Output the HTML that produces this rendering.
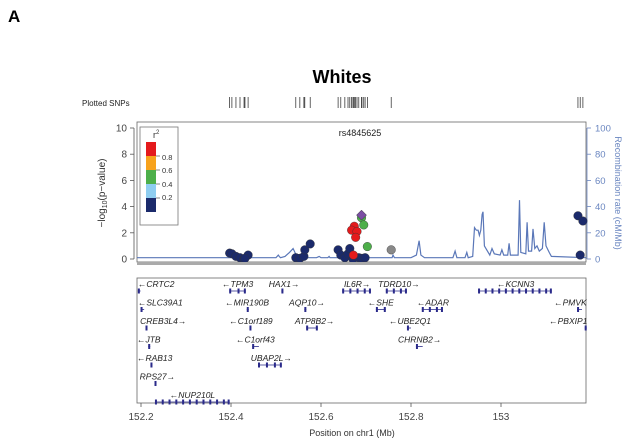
<!DOCTYPE html>
<html><head><meta charset="utf-8">
<style>
html,body{margin:0;padding:0;background:#fff;}
svg{display:block;font-family:"Liberation Sans",Arial,sans-serif;}
</style></head>
<body>
<svg id="chart" width="625" height="438" viewBox="0 0 625 438">
<text x="8" y="22" font-size="17" font-weight="bold">A</text>
<text x="342" y="83" font-size="18" font-weight="bold" text-anchor="middle">Whites</text>
<text x="82" y="106" font-size="8" fill="#222">Plotted SNPs</text>
<g id="snpticks"></g>
<rect x="137" y="122" width="449" height="140" fill="none" stroke="#666" stroke-width="0.8"/>
<g id="recomb"></g>
<g id="yaxis"></g>
<g id="y2axis"></g>
<text transform="translate(105,193) rotate(-90)" font-size="10" fill="#333" text-anchor="middle">−log<tspan font-size="7" dy="2">10</tspan><tspan dy="-2">(p−value)</tspan></text>
<text transform="translate(615,193) rotate(90)" font-size="9" fill="#6a86c0" text-anchor="middle">Recombination rate (cM/Mb)</text>
<g>
<rect x="140" y="127" width="38" height="98" fill="#fff" stroke="#777" stroke-width="0.8"/>
<text x="153" y="138" font-size="9" fill="#333">r<tspan font-size="6" dy="-4">2</tspan></text>
<rect x="146" y="142" width="10" height="14" fill="#e41a1c"/>
<rect x="146" y="156" width="10" height="14" fill="#f7a21c"/>
<rect x="146" y="170" width="10" height="14" fill="#4daf4a"/>
<rect x="146" y="184" width="10" height="14" fill="#8ecdf0"/>
<rect x="146" y="198" width="10" height="14" fill="#1b2a6b"/>
<g font-size="7.5" fill="#333"><text x="162" y="160">0.8</text><text x="162" y="173">0.6</text><text x="162" y="187">0.4</text><text x="162" y="200">0.2</text></g>
<g stroke="#333" stroke-width="0.6"><line x1="156" y1="156" x2="160" y2="156"/><line x1="156" y1="170" x2="160" y2="170"/><line x1="156" y1="184" x2="160" y2="184"/><line x1="156" y1="198" x2="160" y2="198"/></g>
</g>
<text x="360" y="136" font-size="9" fill="#222" text-anchor="middle">rs4845625</text>
<g id="points"></g>
<rect x="137" y="262" width="449" height="3" fill="#aaa"/>
<rect x="137" y="278" width="449" height="125" fill="none" stroke="#666" stroke-width="0.8"/>
<g id="genes"></g>
<g id="xaxis"></g>
<text x="352" y="436" font-size="9" fill="#333" text-anchor="middle">Position on chr1 (Mb)</text>
</svg>
<script>
// ---- data ----
const snpPos = [152.397,152.402,152.411,152.420,152.429,152.438,152.431,
 152.544,152.553,152.562,152.564,152.576,
 152.638,152.644,152.653,152.660,152.664,152.671,152.684,152.691,152.698,
 152.674,152.668,152.680,152.677,152.672,
 152.690,152.695,152.703,152.756,153.171,153.182,153.176];
const snpLogP = [0.45,0.4,0.2,0.1,0.0,0.3,0.05,
 0.1,0.05,0.2,0.7,1.15,
 0.7,0.3,0.1,0.4,0.8,0.0,0.1,0.05,0.1,
 2.5,2.2,2.1,1.65,0.3,
 3.15,2.6,0.95,0.7,3.3,2.9,0.3];
const snpR2Class = ['n','n','n','n','n','n','n','n','n','n','n','n','n','n','n','n','n','n','n','n','n',
 'r','r','r','r','r','g','gr','gr','x','n','n','n'];
const indexPos = 152.690, indexLogP = 3.35;
const recPos = [152.18,152.40,152.50,152.505,152.507,152.51,152.52,152.530,152.538,152.545,152.556,152.56,152.59,152.596,152.60,152.615,152.618,152.62,152.65,152.653,152.656,152.678,152.68,152.683,152.70,152.758,152.76,152.763,152.80,152.812,152.818,152.822,152.83,152.893,152.898,152.902,152.92,152.924,152.927,152.937,152.941,152.945,152.949,152.952,152.955,152.958,152.96,152.963,152.975,152.98,152.985,152.998,153.002,153.006,153.015,153.018,153.021,153.038,153.041,153.044,153.055,153.058,153.061,153.068,153.071,153.075,153.08,153.085,153.092,153.096,153.100,153.107,153.112,153.19];
const recRate = [1,1,1,3,2,1,2,5,8,3,2,1,1,2,1,1,2,1,1,2,1,1,2,1,1,1,3,1,1,3,14,3,1,1,6,1,1,5,1,2,24,22,22,18,22,34,36,10,3,8,4,3,7,3,3,12,3,3,45,5,4,28,6,6,23,8,10,6,8,28,10,5,2,1];
const xTicks = [152.2,152.4,152.6,152.8,153.0];
const xTickLabels = ['152.2','152.4','152.6','152.8','153'];
const yTicks = [0,2,4,6,8,10];
const y2Ticks = [0,20,40,60,80,100];
const geneNames = ['CRTC2','TPM3','HAX1','IL6R','TDRD10','KCNN3','SLC39A1','MIR190B','AQP10','SHE','ADAR','PMVK','CREB3L4','C1orf189','ATP8B2','UBE2Q1','PBXIP1','JTB','C1orf43','CHRNB2','RAB13','UBAP2L','RPS27','NUP210L'];
const geneStart = [152.193,152.396,152.512,152.647,152.744,152.949,152.199,152.435,152.563,152.722,152.824,153.169,152.210,152.441,152.567,152.791,153.186,152.216,152.447,152.811,152.221,152.460,152.230,152.231];
const geneEnd = [152.199,152.433,152.514,152.711,152.791,153.113,152.207,152.437,152.565,152.744,152.871,153.180,152.213,152.443,152.593,152.800,153.190,152.218,152.462,152.826,152.224,152.513,152.232,152.397];
const geneRow = [0,0,0,0,0,0,1,1,1,1,1,1,2,2,2,2,2,3,3,3,4,4,5,6];
const geneStrand = ['-','-','+','+','+','-','-','-','+','-','-','-','+','-','+','-','-','-','-','+','-','+','+','-'];
const geneLabelPos = [152.193,152.380,152.484,152.651,152.727,152.991,152.193,152.387,152.529,152.704,152.813,153.118,152.198,152.396,152.542,152.751,153.107,152.191,152.411,152.771,152.191,152.444,152.197,152.264];

// ---- scales ----
const X = v => 141 + (v - 152.2) * 450;
const Y = v => 259 - v * 13.1;
const Y2 = v => 259 - v * 1.31;
const NS = 'http://www.w3.org/2000/svg';
function mk(tag, attrs, parent){const e=document.createElementNS(NS,tag);for(const k in attrs)e.setAttribute(k,attrs[k]);parent.appendChild(e);return e;}

const st=document.getElementById('snpticks');
snpPos.forEach(p=>{const l=mk('line',{x1:X(p),x2:X(p),y1:97,y2:108,stroke:'#222','stroke-width':0.7},st);

});

const rg=document.getElementById('recomb');
let d='';recPos.forEach((p,i)=>{d+=(i?'L':'M')+Math.max(137,Math.min(586,X(p))).toFixed(1)+','+Y2(recRate[i]).toFixed(1);});
const rl=mk('path',{d:d,fill:'none',stroke:'#5a77b8','stroke-width':1.2},rg);



const ya=document.getElementById('yaxis');
mk('line',{x1:134,x2:134,y1:Y(0),y2:Y(10),stroke:'#555','stroke-width':0.8},ya);
yTicks.forEach(t=>{mk('line',{x1:130,x2:134,y1:Y(t),y2:Y(t),stroke:'#555','stroke-width':0.8},ya);
const tx=mk('text',{x:127,y:Y(t)+3.5,'font-size':10,fill:'#444','text-anchor':'end'},ya);tx.textContent=t;

});
const y2=document.getElementById('y2axis');
mk('line',{x1:587,x2:587,y1:Y2(0),y2:Y2(100),stroke:'#6a86c0','stroke-width':0.8},y2);
y2Ticks.forEach(t=>{mk('line',{x1:587,x2:591,y1:Y2(t),y2:Y2(t),stroke:'#6a86c0','stroke-width':0.8},y2);
const tx=mk('text',{x:595,y:Y2(t)+3.5,'font-size':9.5,fill:'#6a86c0'},y2);tx.textContent=t;

});
const xa=document.getElementById('xaxis');
xTicks.forEach((t,i)=>{mk('line',{x1:X(t),x2:X(t),y1:403,y2:407,stroke:'#555','stroke-width':0.8},xa);
const tx=mk('text',{x:X(t),y:420,'font-size':10,fill:'#444','text-anchor':'middle'},xa);tx.textContent=xTickLabels[i];

});

const col={n:'#1b2a6b',r:'#e41a1c',g:'#4daf4a',gr:'#4daf4a',x:'#888888'};
const pg=document.getElementById('points');
snpPos.forEach((p,i)=>{const c=mk('circle',{cx:X(p),cy:Y(snpLogP[i]),r:4.3,fill:col[snpR2Class[i]],stroke:'#333','stroke-width':0.4},pg);

});
const ix=X(indexPos),iy=Y(indexLogP);
const dm=mk('path',{d:`M${ix},${iy-5}L${ix+5},${iy}L${ix},${iy+5}L${ix-5},${iy}Z`,fill:'#7b4ea3',stroke:'#333','stroke-width':0.5},pg);



const gg=document.getElementById('genes');
geneNames.forEach((n,i)=>{const yb=291+geneRow[i]*18.5;
const x1=X(geneStart[i]),x2=Math.max(X(geneEnd[i]),x1+2);
const g=mk('g',{},gg);


mk('line',{x1:x1,x2:x2,y1:yb,y2:yb,stroke:'#2a2a8a','stroke-width':0.8},g);
const nEx=Math.max(1,Math.round((x2-x1)/6));
for(let k=0;k<nEx;k++){const ex=x1+(x2-x1)*(nEx===1?0:k/(nEx-1));mk('rect',{x:Math.min(ex,x2-2),y:yb-2.5,width:2,height:5,fill:'#2a2a8a'},g);}
const label=geneStrand[i]==='+'?n+'\u2192':'\u2190'+n;
const t=mk('text',{x:X(geneLabelPos[i]),y:yb-4,'font-size':8.5,'font-style':'italic',fill:'#222'},g);t.textContent=label;});
</script>
</body></html>
